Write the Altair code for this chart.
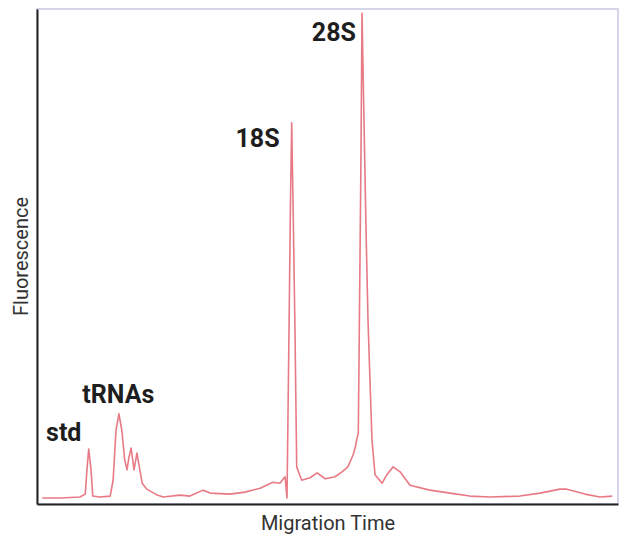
import altair as alt
import pandas as pd

# Migration time (arbitrary units, 0-100) and fluorescence (arbitrary units, 0-100)
time = [0.9, 4.0, 7.4, 8.3, 8.6, 8.9, 9.3, 9.6, 10.8, 12.6, 13.1, 13.6, 14.1, 14.6,
        15.1, 15.5, 15.8, 16.2, 16.7, 17.2, 17.7, 18.1, 18.9, 20.7, 21.7, 24.6, 26.3,
        28.6, 29.8, 33.2, 35.8, 38.4, 40.6, 41.8, 42.7, 43.03, 43.37, 43.63, 43.84,
        44.06, 44.41, 44.70, 45.56, 47.0, 48.2, 49.6, 51.3, 52.5, 53.5, 54.4, 54.8,
        55.0, 55.30, 55.47, 55.77, 55.94, 56.28, 56.63, 56.97, 57.31, 57.66, 58.18,
        59.4, 60.2, 61.3, 62.5, 64.2, 67.6, 71.1, 74.5, 78.0, 83.1, 86.6, 90.0, 91.2,
        94.3, 96.9, 99.0]
fluor = [1.2, 1.2, 1.4, 2.0, 6.9, 11.1, 6.9, 1.6, 1.4, 1.6, 4.8, 14.9, 18.2, 14.9,
         8.9, 6.9, 9.3, 11.3, 6.9, 10.3, 6.9, 4.2, 3.0, 1.8, 1.4, 1.8, 1.6,
         2.8, 2.2, 2.0, 2.4, 3.2, 4.4, 4.2, 5.5, 1.2, 34.5, 61.4, 77.0,
         61.4, 34.5, 7.5, 4.8, 5.3, 6.3, 5.1, 5.5, 6.5, 7.5, 9.9, 11.5,
         12.9, 14.3, 34.5, 71.5, 99.2, 77.6, 55.4, 37.2, 25.0, 12.9, 5.9,
         4.2, 5.9, 7.5, 6.5, 3.8, 2.8, 2.2, 1.6, 1.4, 1.6, 2.2, 3.0, 3.0,
         2.0, 1.4, 1.6]

labels = ["std", "tRNAs", "18S", "28S"]
label_time = [4.6, 14.0, 37.95, 51.1]
label_fluor = [12.7, 20.4, 72.1, 93.5]

curve = pd.DataFrame({"t": time, "f": fluor})
ann = pd.DataFrame({"label": labels, "t": label_time, "f": label_fluor})

FONT = "Roboto, Liberation Sans, sans-serif"

xscale = alt.Scale(domain=[0, 100], nice=False, zero=False)
yscale = alt.Scale(domain=[0, 100], nice=False, zero=False)

xaxis = alt.Axis(title="Migration Time", labels=False, ticks=False, grid=False,
                 domainColor="#222222", domainWidth=2,
                 titleFont=FONT, titleFontSize=20, titleFontWeight="normal",
                 titleColor="#333333", titleBaseline="alphabetic", titleY=25)
yaxis = alt.Axis(title="Fluorescence", labels=False, ticks=False, grid=False,
                 domainColor="#222222", domainWidth=2,
                 titleFont=FONT, titleFontSize=20, titleFontWeight="normal",
                 titleColor="#333333", titleAngle=270, titleBaseline="alphabetic",
                 titleX=-10, titleY=247)

line = alt.Chart(curve).mark_line(color="#e77a85", strokeWidth=1.6,
                                  strokeJoin="round").encode(
    x=alt.X("t:Q", scale=xscale, axis=xaxis),
    y=alt.Y("f:Q", scale=yscale, axis=yaxis),
)

text = alt.Chart(ann).mark_text(font=FONT, fontSize=25, fontWeight="bold",
                                color="#1e1e1e", align="center",
                                baseline="alphabetic").encode(
    x=alt.X("t:Q", scale=xscale),
    y=alt.Y("f:Q", scale=yscale),
    text="label:N",
)

chart = (line + text).properties(
    width=581, height=495,
    autosize=alt.AutoSizeParams(type="none"),
    padding={"left": 29, "top": 1, "right": 3, "bottom": 33},
    background="white",
).configure_view(stroke="#c9c9e3", strokeWidth=1.5)

chart.save("out.html", embed_options={"renderer": "svg", "actions": False})
